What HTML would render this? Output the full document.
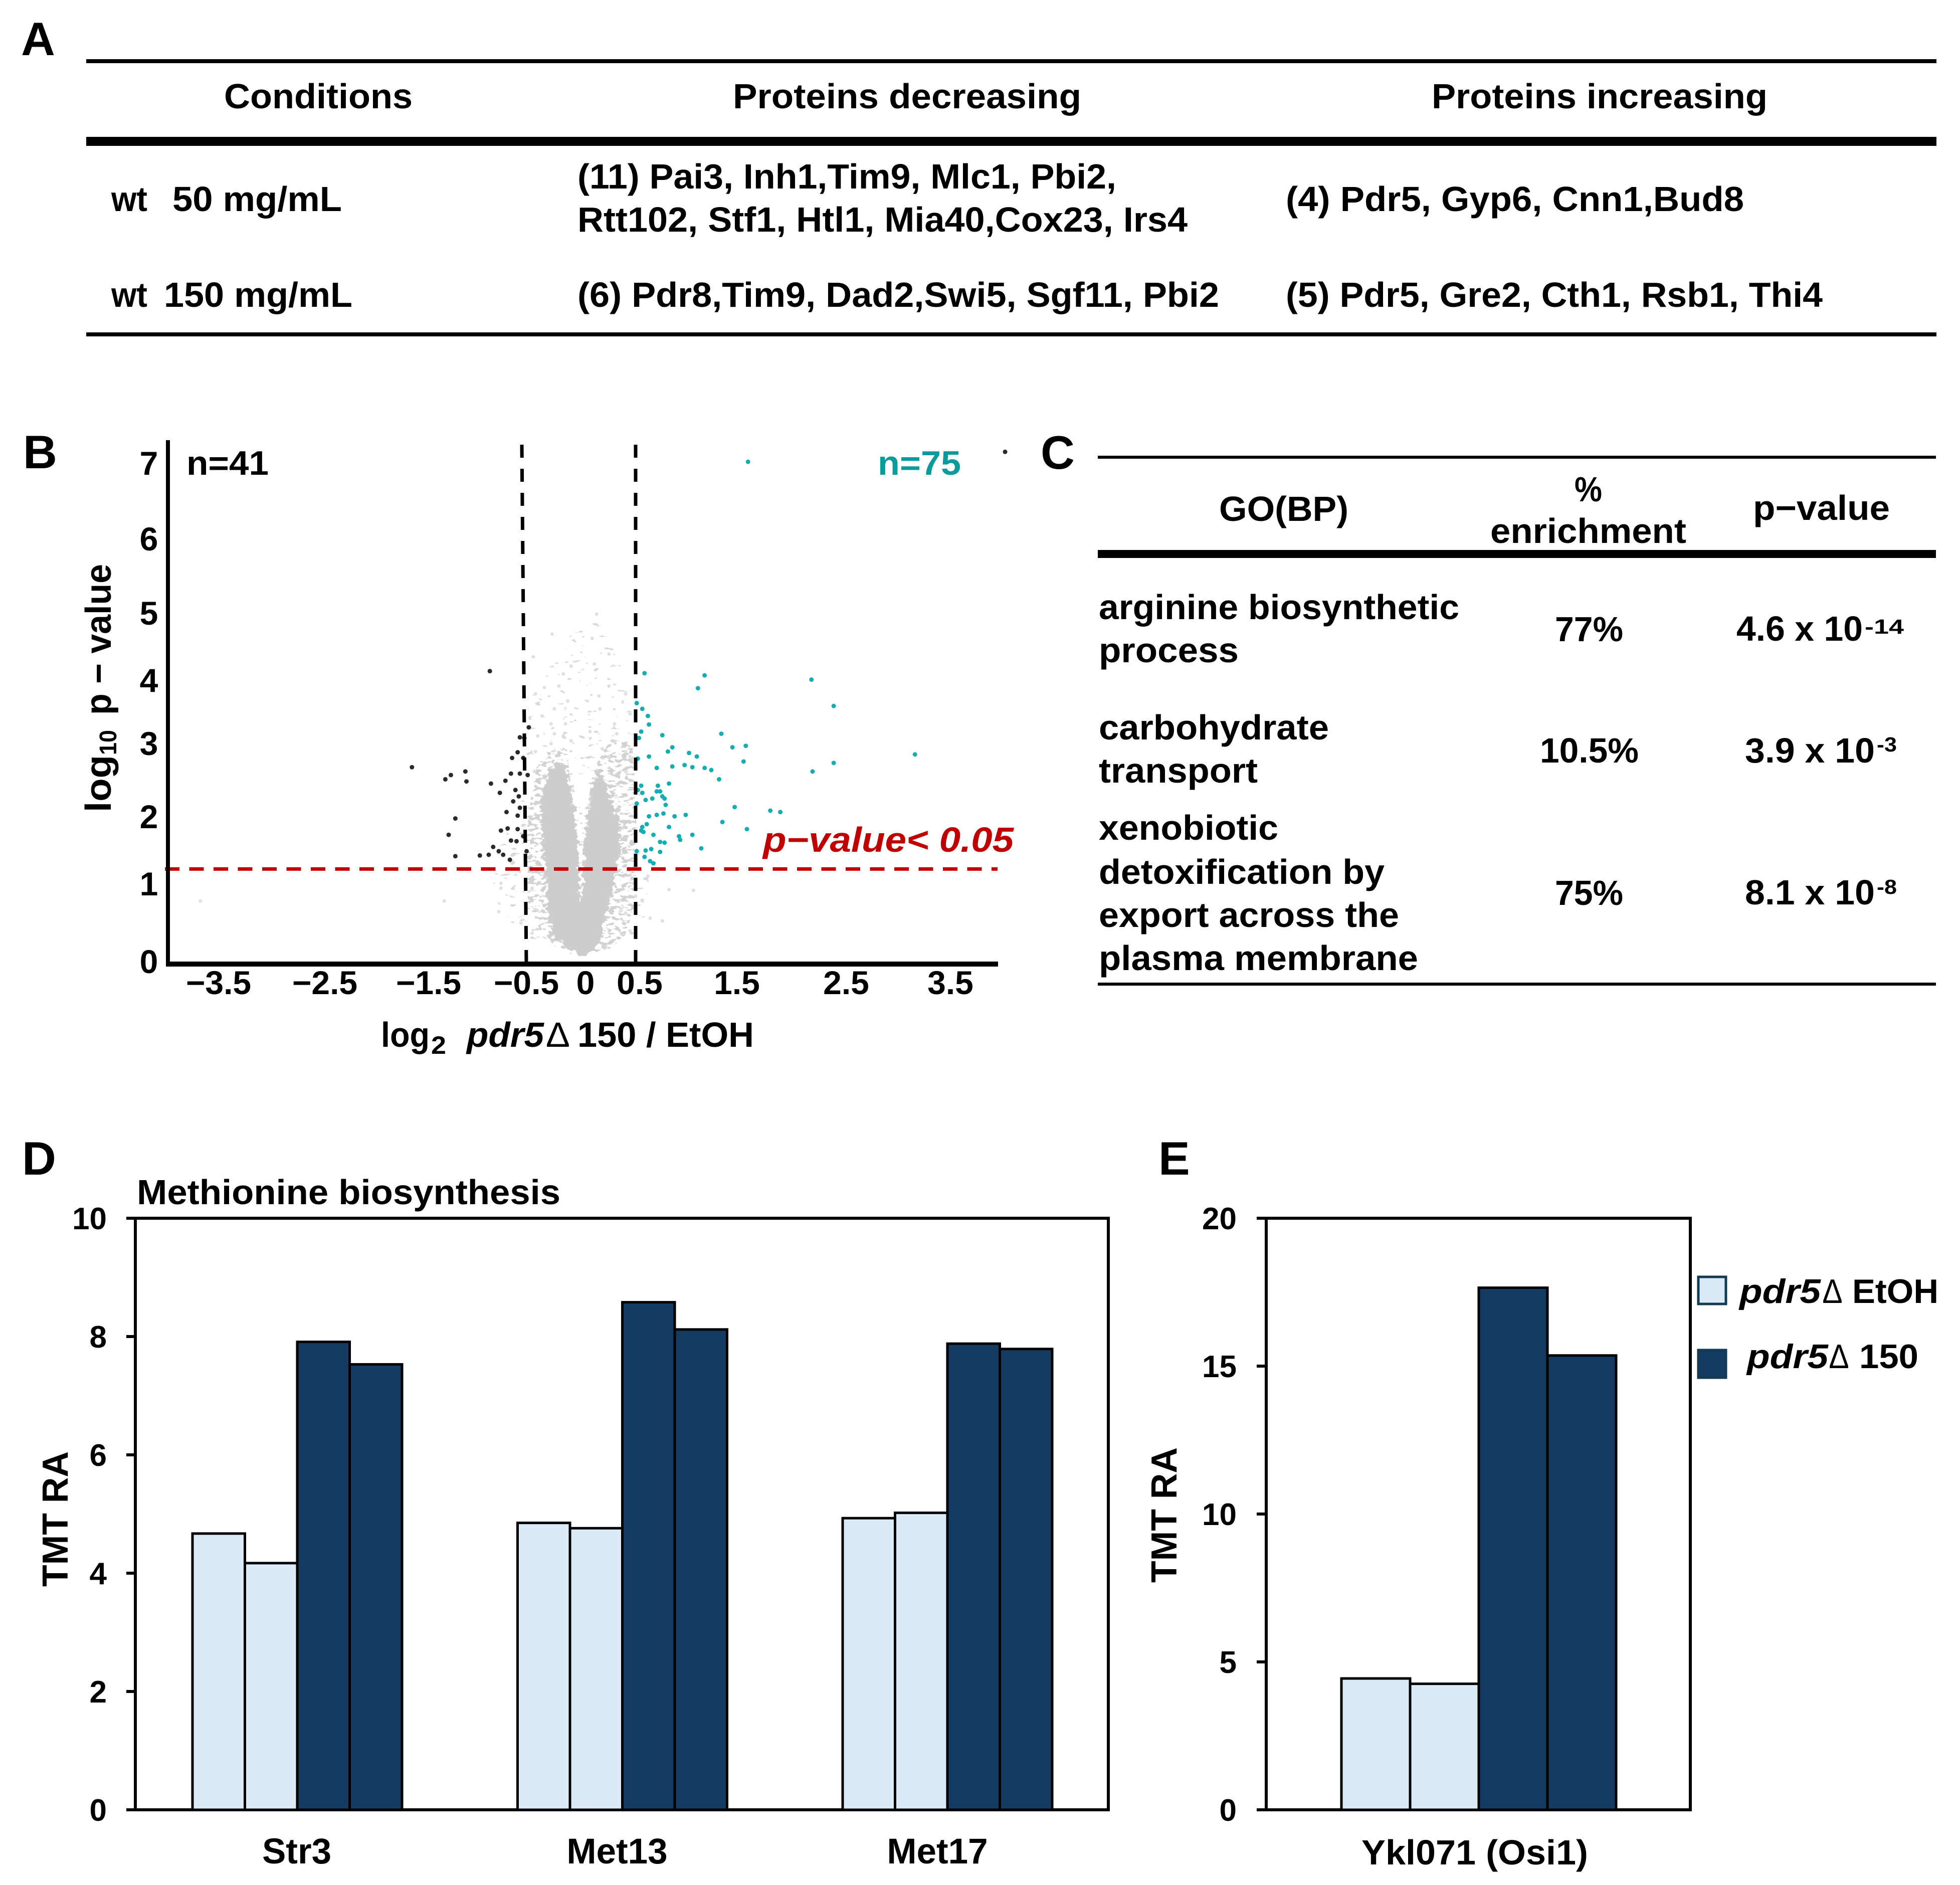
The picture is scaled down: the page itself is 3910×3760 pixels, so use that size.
<!DOCTYPE html>
<html lang="en">
<head>
<meta charset="utf-8">
<title>Proteomics figure panels A-E</title>
<style>
html,body{margin:0;padding:0;background:#fff;}
svg{display:block;}
text{font-family:"Liberation Sans",sans-serif;font-weight:bold;fill:#000;}
</style>
</head>
<body>
<svg id="figure" xmlns="http://www.w3.org/2000/svg" width="3910" height="3760" viewBox="0 0 3910 3760">
<defs>
<filter id="rough-edge" filterUnits="userSpaceOnUse" x="900" y="1000" width="600" height="950" color-interpolation-filters="sRGB">
<feTurbulence type="fractalNoise" baseFrequency="0.07 0.12" numOctaves="2" seed="4" result="noise"/>
<feDisplacementMap in="SourceGraphic" in2="noise" scale="22" xChannelSelector="R" yChannelSelector="G"/>
</filter>
<filter id="speckle-mid" filterUnits="userSpaceOnUse" x="900" y="1000" width="600" height="950" color-interpolation-filters="sRGB">
<feTurbulence type="fractalNoise" baseFrequency="0.075 0.14" numOctaves="2" seed="9"/>
<feColorMatrix type="matrix" values="0 0 0 0 0  0 0 0 0 0  0 0 0 0 0  16 0 0 0 -8.4" result="mask"/>
<feComposite in="SourceGraphic" in2="mask" operator="in"/>
</filter>
<filter id="speckle-sparse" filterUnits="userSpaceOnUse" x="900" y="1000" width="600" height="950" color-interpolation-filters="sRGB">
<feTurbulence type="fractalNoise" baseFrequency="0.06 0.12" numOctaves="2" seed="15"/>
<feColorMatrix type="matrix" values="0 0 0 0 0  0 0 0 0 0  0 0 0 0 0  18 0 0 0 -12.2" result="mask"/>
<feComposite in="SourceGraphic" in2="mask" operator="in"/>
</filter>
</defs>
<rect x="0" y="0" width="3910" height="3760" fill="#fff"/>

<g id="panel-a" font-size="70">
<text x="42" y="110" font-size="94">A</text>
<rect x="172" y="118" width="3691" height="8"/>
<rect x="172" y="273" width="3691" height="18"/>
<rect x="172" y="663" width="3691" height="8"/>
<text x="447" y="216" textLength="376" lengthAdjust="spacingAndGlyphs">Conditions</text>
<text x="1462" y="216" textLength="695" lengthAdjust="spacingAndGlyphs">Proteins decreasing</text>
<text x="2856" y="216" textLength="670" lengthAdjust="spacingAndGlyphs">Proteins increasing</text>
<text x="222" y="421" textLength="72" lengthAdjust="spacingAndGlyphs">wt</text>
<text x="344" y="421" textLength="338" lengthAdjust="spacingAndGlyphs">50 mg/mL</text>
<text x="1152" y="376" textLength="1075" lengthAdjust="spacingAndGlyphs">(11) Pai3, Inh1,Tim9, Mlc1, Pbi2,</text>
<text x="1152" y="462" textLength="1217" lengthAdjust="spacingAndGlyphs">Rtt102, Stf1, Htl1, Mia40,Cox23, Irs4</text>
<text x="2565" y="421" textLength="914" lengthAdjust="spacingAndGlyphs">(4) Pdr5, Gyp6, Cnn1,Bud8</text>
<text x="222" y="612" textLength="72" lengthAdjust="spacingAndGlyphs">wt</text>
<text x="327" y="612" textLength="376" lengthAdjust="spacingAndGlyphs">150 mg/mL</text>
<text x="1152" y="612" textLength="1280" lengthAdjust="spacingAndGlyphs">(6) Pdr8,Tim9, Dad2,Swi5, Sgf11, Pbi2</text>
<text x="2565" y="612" textLength="1071" lengthAdjust="spacingAndGlyphs">(5) Pdr5, Gre2, Cth1, Rsb1, Thi4</text>
</g>

<g id="panel-c" font-size="70">
<text x="2076" y="935" font-size="94">C</text>
<rect x="2190" y="909" width="1672" height="6"/>
<rect x="2190" y="1097" width="1672" height="16"/>
<rect x="2190" y="1960" width="1672" height="6"/>
<text x="2432" y="1039" textLength="258" lengthAdjust="spacingAndGlyphs">GO(BP)</text>
<text x="3141" y="1000" textLength="55" lengthAdjust="spacingAndGlyphs">%</text>
<text x="2973" y="1083" textLength="391" lengthAdjust="spacingAndGlyphs">enrichment</text>
<text x="3497" y="1037" textLength="273" lengthAdjust="spacingAndGlyphs">p−value</text>
<text x="2192" y="1235" textLength="719" lengthAdjust="spacingAndGlyphs">arginine biosynthetic</text>
<text x="2192" y="1321" textLength="279" lengthAdjust="spacingAndGlyphs">process</text>
<text x="3102" y="1279" textLength="136" lengthAdjust="spacingAndGlyphs">77%</text>
<text x="3464" y="1278" textLength="252" lengthAdjust="spacingAndGlyphs">4.6 x 10</text>
<text x="3720" y="1264" font-size="41" textLength="78" lengthAdjust="spacingAndGlyphs">-14</text>
<text x="2192" y="1475" textLength="459" lengthAdjust="spacingAndGlyphs">carbohydrate</text>
<text x="2192" y="1561" textLength="317" lengthAdjust="spacingAndGlyphs">transport</text>
<text x="3072" y="1521" textLength="197" lengthAdjust="spacingAndGlyphs">10.5%</text>
<text x="3481" y="1521" textLength="259" lengthAdjust="spacingAndGlyphs">3.9 x 10</text>
<text x="3744" y="1499" font-size="41" textLength="40" lengthAdjust="spacingAndGlyphs">-3</text>
<text x="2192" y="1675" textLength="358" lengthAdjust="spacingAndGlyphs">xenobiotic</text>
<text x="2192" y="1763" textLength="570" lengthAdjust="spacingAndGlyphs">detoxification by</text>
<text x="2192" y="1849" textLength="599" lengthAdjust="spacingAndGlyphs">export across the</text>
<text x="2192" y="1935" textLength="637" lengthAdjust="spacingAndGlyphs">plasma membrane</text>
<text x="3102" y="1805" textLength="136" lengthAdjust="spacingAndGlyphs">75%</text>
<text x="3481" y="1804" textLength="259" lengthAdjust="spacingAndGlyphs">8.1 x 10</text>
<text x="3744" y="1783" font-size="41" textLength="40" lengthAdjust="spacingAndGlyphs">-8</text>
</g>

<g id="panel-b">
<text x="46" y="934" font-size="94">B</text>
<g id="volcano-marks"></g>
<g id="volcano-guides"></g>
<rect x="331" y="878" width="8" height="1050"/>
<rect x="331" y="1918" width="1660" height="10"/>
<g font-size="66" text-anchor="middle">
<text x="297" y="947">7</text>
<text x="297" y="1098">6</text>
<text x="297" y="1246">5</text>
<text x="297" y="1380">4</text>
<text x="297" y="1506">3</text>
<text x="297" y="1652">2</text>
<text x="297" y="1786">1</text>
<text x="297" y="1941">0</text>
</g>
<g font-size="66" text-anchor="middle">
<text x="436" y="1983">−3.5</text>
<text x="648" y="1983">−2.5</text>
<text x="855" y="1983">−1.5</text>
<text x="1050" y="1983">−0.5</text>
<text x="1168" y="1983">0</text>
<text x="1276" y="1983">0.5</text>
<text x="1470" y="1983">1.5</text>
<text x="1688" y="1983">2.5</text>
<text x="1896" y="1983">3.5</text>
</g>
<text x="372" y="947" font-size="68" textLength="164" lengthAdjust="spacingAndGlyphs">n=41</text>
<text x="1751" y="947" font-size="68" textLength="166" lengthAdjust="spacingAndGlyphs" style="fill:#0e9a9a">n=75</text>
<text x="1522" y="1699" font-size="70" font-style="italic" textLength="500" lengthAdjust="spacingAndGlyphs" style="fill:#c00000">p−value&lt; 0.05</text>
<g font-size="70">
<text x="760" y="2088" textLength="97" lengthAdjust="spacingAndGlyphs">log</text>
<text x="860" y="2102" font-size="50" textLength="30" lengthAdjust="spacingAndGlyphs">2</text>
<text x="931" y="2088" font-style="italic" textLength="154" lengthAdjust="spacingAndGlyphs">pdr5</text>
<text x="1091" y="2088" textLength="44" lengthAdjust="spacingAndGlyphs" style="font-weight:normal">∆</text>
<text x="1152" y="2088" textLength="352" lengthAdjust="spacingAndGlyphs">150 / EtOH</text>
</g>
<g font-size="72">
<text x="221" y="1620" transform="rotate(-90 221 1620)" textLength="114" lengthAdjust="spacingAndGlyphs">log</text>
<text x="232" y="1506" transform="rotate(-90 232 1506)" font-size="48" textLength="50" lengthAdjust="spacingAndGlyphs">10</text>
<text x="221" y="1426" transform="rotate(-90 221 1426)" textLength="301" lengthAdjust="spacingAndGlyphs">p − value</text>
</g>
</g>

<g id="panel-d">
<text x="44" y="2343" font-size="94">D</text>
<text x="273" y="2402" font-size="70" textLength="845" lengthAdjust="spacingAndGlyphs">Methionine biosynthesis</text>
<text x="135" y="3165" font-size="72" transform="rotate(-90 135 3165)" textLength="270" lengthAdjust="spacingAndGlyphs">TMT RA</text>
<rect x="270" y="2430" width="1941" height="1180" fill="none" stroke="#000" stroke-width="6"/>
<g id="d-ticks" font-size="62"></g>
<g id="d-bars"></g>
<g id="d-cats" font-size="71"></g>
</g>

<g id="panel-e">
<text x="2311" y="2343" font-size="94">E</text>
<text x="2347" y="3157" font-size="72" transform="rotate(-90 2347 3157)" textLength="270" lengthAdjust="spacingAndGlyphs">TMT RA</text>
<rect x="2526" y="2430" width="846" height="1180" fill="none" stroke="#000" stroke-width="6"/>
<g id="e-ticks" font-size="62"></g>
<g id="e-bars"></g>
<text x="2716" y="3719" font-size="70" textLength="452" lengthAdjust="spacingAndGlyphs">Ykl071 (Osi1)</text>
<g font-size="68">
<g>
<rect x="3388" y="2547" width="55" height="54" fill="#dce9f6" stroke="#123a52" stroke-width="5"/>
<text x="3470" y="2599" font-style="italic" textLength="162" lengthAdjust="spacingAndGlyphs">pdr5</text>
<text x="3637" y="2599" textLength="37" lengthAdjust="spacingAndGlyphs" style="font-weight:normal">∆</text>
<text x="3695" y="2599" textLength="172" lengthAdjust="spacingAndGlyphs">EtOH</text>
</g>
<g>
<rect x="3388" y="2693" width="55" height="55" fill="#163b63" stroke="#123a52" stroke-width="5"/>
<text x="3485" y="2729" font-style="italic" textLength="162" lengthAdjust="spacingAndGlyphs">pdr5</text>
<text x="3650" y="2729" textLength="37" lengthAdjust="spacingAndGlyphs" style="font-weight:normal">∆</text>
<text x="3709" y="2729" textLength="118" lengthAdjust="spacingAndGlyphs">150</text>
</g>
</g>
</g>
</svg>

<script>
// ---- Panel B: volcano plot data (log2 ratio, -log10 p) ----
var upX = [0.58,1.12,1.06,2.08,2.28,0.51,0.56,0.61,0.62,0.55,0.53,0.74,1.27,1.37,1.49,0.83,0.79,0.98,1.05,0.62,0.52,3.01,1.47,2.28,2.09,0.69,0.83,0.94,1.01,1.12,1.18,1.25,0.80,0.55,0.70,0.52,0.56,0.69,0.72,0.74,0.76,0.65,0.59,0.51,0.77,1.39,1.71,1.80,0.62,0.69,0.75,0.85,0.95,1.28,0.60,0.80,1.50,0.56,0.55,0.57,1.01,0.89,0.90,0.66,0.72,0.76,1.09,0.64,0.59,0.51,0.72,0.58,0.63,0.66,1.51];
var upY = [4.05,4.02,3.84,3.96,3.59,3.63,3.55,3.45,3.33,3.23,3.14,3.18,3.20,3.01,3.03,3.01,2.95,2.93,2.88,2.88,2.85,2.91,2.81,2.79,2.67,2.72,2.74,2.76,2.73,2.72,2.69,2.56,2.50,2.47,2.47,2.41,2.37,2.39,2.39,2.32,2.29,2.29,2.27,2.22,2.20,2.17,2.12,2.10,2.04,2.06,2.08,2.04,2.06,1.96,1.93,1.89,1.86,1.89,1.84,1.82,1.78,1.76,1.71,1.78,1.68,1.67,1.59,1.58,1.56,1.55,1.54,1.47,1.41,1.38,7.02];
var downX = [-0.81,-0.46,-0.54,-0.50,-0.56,-0.61,-0.51,-1.51,-1.03,-1.16,-1.21,-1.02,-0.80,-0.67,-0.62,-0.54,-0.47,-0.72,-0.58,-0.55,-0.60,-0.54,-0.66,-1.12,-0.56,-0.71,-0.65,-0.56,-1.18,-0.62,-0.57,-0.51,-0.78,-0.73,-0.69,-0.48,-1.12,-0.90,-0.82,-0.63,3.82];
var downY = [4.08,3.29,3.15,3.14,2.94,2.86,2.86,2.73,2.67,2.62,2.56,2.53,2.50,2.54,2.64,2.64,2.62,2.37,2.41,2.32,2.25,2.16,2.10,2.01,2.05,1.84,1.87,1.86,1.78,1.70,1.69,1.76,1.61,1.55,1.50,1.55,1.48,1.49,1.50,1.43,7.16];
var otherX = [-3.41,-1.22,-0.71,-0.73,0.80,1.02,0.74,0.63,0.15,0.11,-0.25,-0.42,0.26,0.13,-0.08,-0.15,-0.32,-0.19,0.26,-0.40,0.17,0.41,-0.11,-0.23,-0.34,0.18,0.45,-0.26,-0.13,0.31,0.09,-0.38,-0.23,0.33,-0.26,-0.08,0.20,0.41,-0.40,0.26,0.45,-0.41,0.41,-0.43,0.48,0.56,0.45,-0.53,-0.43,0.41,0.50,0.61,-0.54,-0.71];
var otherY = [0.85,0.85,1.03,0.70,1.01,1.00,0.57,0.61,4.88,4.54,4.60,4.28,4.32,4.18,4.15,4.04,3.85,3.87,3.87,3.76,3.73,3.76,3.66,3.55,3.45,3.55,3.48,3.34,3.34,3.34,3.23,3.17,3.20,3.20,3.06,3.10,2.99,2.95,2.95,2.88,2.88,2.67,2.67,1.03,1.10,0.85,0.43,0.54,0.40,0.68,0.92,1.20,1.27,1.10];
// Outlines of the regions where the non-significant cloud is too dense to read single points
var denseEdgeX = [0.00,-0.12,-0.23,-0.29,-0.31,-0.32,-0.36,-0.34,-0.29,-0.23,-0.14,-0.09,-0.05,-0.02,-0.01,0.00,0.01,0.03,0.04,0.04,0.07,0.12,0.17,0.22,0.27,0.36,0.36,0.31,0.27,0.22,0.18,0.09];
var denseEdgeY = [0.07,0.19,0.36,0.68,1.03,1.55,2.08,2.33,2.61,2.80,2.75,2.50,2.08,1.73,1.27,0.85,0.85,1.03,1.38,1.73,2.04,2.50,2.71,2.54,2.26,1.91,1.55,1.21,0.85,0.57,0.26,0.12];
var midEdgeX = [-0.20,-0.36,-0.47,-0.47,-0.50,-0.44,-0.40,-0.28,-0.12,-0.05,0.00,0.05,0.12,0.25,0.47,0.50,0.52,0.50,0.40,0.25];
var midEdgeY = [0.17,0.45,0.85,1.30,1.60,2.30,2.70,3.00,3.00,2.00,1.00,2.00,2.70,3.05,3.10,2.20,1.30,0.80,0.35,0.15];
var sparseEdgeX = [-0.80,-0.50,-0.45,-0.25,-0.05,0.15,0.30,0.50,0.52,0.62,0.60,0.40,-0.20,-0.55,-0.75];
var sparseEdgeY = [1.30,2.50,3.70,4.20,4.70,4.90,4.40,3.90,2.80,1.10,0.60,0.20,0.15,0.40,0.85];
var foldThresholds = [-0.5,0.5];
var pThreshold = 1.3;

// ---- Panel D / E: bar data ----
var dCategories = ["Str3","Met13","Met17"];
var dEtoh1 = [4.67,4.85,4.93];
var dEtoh2 = [4.17,4.76,5.02];
var dTreated1 = [7.91,8.58,7.88];
var dTreated2 = [7.53,8.12,7.79];
var dYTicks = [0,2,4,6,8,10];
var eValues = [4.44,4.26,17.65,15.36];
var eYTicks = [0,5,10,15,20];

var NS = "http://www.w3.org/2000/svg";
var LIGHT = "#dce9f6", DARK = "#163b63";

function make(tag, parent) {
  var el = document.createElementNS(NS, tag);
  parent.appendChild(el);
  return el;
}
function vx(v) { return 1157 + v * 222; }
function vy(v) { return 1918 - v * 142; }
function dy(v) { return 3610 - v * 118; }
function ey(v) { return 3610 - v * 59; }
function polyPoints(xs, ys) {
  return xs.map(function (x, i) { return vx(x) + "," + vy(ys[i]); }).join(" ");
}

var marks = document.getElementById("volcano-marks");

var sparse = make("polygon", marks);


sparse.setAttribute("points", polyPoints(sparseEdgeX, sparseEdgeY));
sparse.setAttribute("fill", "#dadada");
sparse.setAttribute("filter", "url(#speckle-sparse)");

var mid = make("polygon", marks);


mid.setAttribute("points", polyPoints(midEdgeX, midEdgeY));
mid.setAttribute("fill", "#d2d2d2");
mid.setAttribute("filter", "url(#speckle-mid)");

var dense = make("polygon", marks);


dense.setAttribute("points", polyPoints(denseEdgeX, denseEdgeY));
dense.setAttribute("fill", "#cdcdcd");
dense.setAttribute("filter", "url(#rough-edge)");

otherX.forEach(function (x, i) {
  var c = make("circle", marks);
  
  
  c.setAttribute("cx", vx(x));
  c.setAttribute("cy", vy(otherY[i]));
  c.setAttribute("r", 3.5);
  c.setAttribute("fill", "#e0e0e0");
});
downX.forEach(function (x, i) {
  var c = make("circle", marks);
  
  
  c.setAttribute("cx", vx(x));
  c.setAttribute("cy", vy(downY[i]));
  c.setAttribute("r", 4.5);
  c.setAttribute("fill", "#2a2a2a");
});
upX.forEach(function (x, i) {
  var c = make("circle", marks);
  
  
  c.setAttribute("cx", vx(x));
  c.setAttribute("cy", vy(upY[i]));
  c.setAttribute("r", 4.5);
  c.setAttribute("fill", "#16adb2");
});

var guides = document.getElementById("volcano-guides");
foldThresholds.forEach(function (v, i) {
  var l = make("line", guides);
  
  
  l.setAttribute("x1", vx(v) - (i === 0 ? 5 : 0));
  l.setAttribute("x2", vx(v) + (i === 0 ? 4 : 0));
  l.setAttribute("y1", 887);
  l.setAttribute("y2", 1925);
  l.setAttribute("stroke", "#000");
  l.setAttribute("stroke-width", 7);
  l.setAttribute("stroke-dasharray", "26 22");
});
var pLine = make("line", guides);


pLine.setAttribute("x1", 329);
pLine.setAttribute("x2", 1990);
pLine.setAttribute("y1", vy(pThreshold));
pLine.setAttribute("y2", vy(pThreshold));
pLine.setAttribute("stroke", "#c00000");
pLine.setAttribute("stroke-width", 7);
pLine.setAttribute("stroke-dasharray", "29 19.5");

// Panel D
var dTicksG = document.getElementById("d-ticks");
dYTicks.forEach(function (v) {
  var l = make("line", dTicksG);
  
  
  l.setAttribute("x1", 252);
  l.setAttribute("x2", 270);
  l.setAttribute("y1", dy(v));
  l.setAttribute("y2", dy(v));
  l.setAttribute("stroke", "#000");
  l.setAttribute("stroke-width", 6);
  var t = make("text", dTicksG);
  
  
  t.setAttribute("x", 213);
  t.setAttribute("y", dy(v) + 22);
  t.setAttribute("text-anchor", "end");
  t.textContent = String(v);
});

var dBars = document.getElementById("d-bars");
var dCats = document.getElementById("d-cats");
var dSeries = [dEtoh1, dEtoh2, dTreated1, dTreated2];
dCategories.forEach(function (name, g) {
  dSeries.forEach(function (series, s) {
    var r = make("rect", dBars);
    
    
    r.setAttribute("x", 384 + g * 648.5 + s * 104.5);
    r.setAttribute("y", dy(series[g]));
    r.setAttribute("width", 104.5);
    r.setAttribute("height", 3610 - dy(series[g]));
    r.setAttribute("fill", s < 2 ? LIGHT : DARK);
    r.setAttribute("stroke", "#000");
    r.setAttribute("stroke-width", 5);
  });
  var t = make("text", dCats);
  
  
  t.setAttribute("x", 592 + g * 639);
  t.setAttribute("y", 3717);
  t.setAttribute("text-anchor", "middle");
  t.textContent = name;
});

// Panel E
var eTicksG = document.getElementById("e-ticks");
eYTicks.forEach(function (v) {
  var l = make("line", eTicksG);
  
  
  l.setAttribute("x1", 2507);
  l.setAttribute("x2", 2526);
  l.setAttribute("y1", ey(v));
  l.setAttribute("y2", ey(v));
  l.setAttribute("stroke", "#000");
  l.setAttribute("stroke-width", 6);
  var t = make("text", eTicksG);
  
  
  t.setAttribute("x", 2467);
  t.setAttribute("y", ey(v) + 22);
  t.setAttribute("text-anchor", "end");
  t.textContent = String(v);
});
var eBars = document.getElementById("e-bars");
eValues.forEach(function (v, s) {
  var r = make("rect", eBars);
  
  
  r.setAttribute("x", 2676 + s * 137);
  r.setAttribute("y", ey(v));
  r.setAttribute("width", 137);
  r.setAttribute("height", 3610 - ey(v));
  r.setAttribute("fill", s < 2 ? LIGHT : DARK);
  r.setAttribute("stroke", "#000");
  r.setAttribute("stroke-width", 5);
});
</script>
</body>
</html>
